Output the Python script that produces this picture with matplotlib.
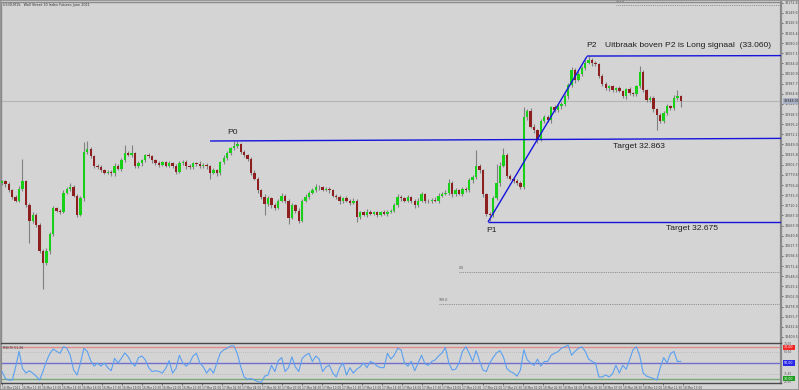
from __future__ import annotations

import matplotlib

matplotlib.use("Agg")

import matplotlib.pyplot as plt
import numpy as np
import pandas as pd


TITLE = "US30,M15:  Wall Street 30 Index Futures June 2021"
START_TIME = "2021-03-16 10:00"

# 15 minute candles, prices in index points (open = previous close)
FIRST_OPEN = 32760
CLOSES = [
    32765, 32758, 32744, 32730, 32721, 32748, 32765, 32710, 32675, 32689,
    32666, 32606, 32579, 32606, 32645, 32703, 32698, 32696, 32739, 32748,
    32753, 32732, 32689, 32726, 32831, 32838, 32822, 32801, 32797, 32790,
    32785, 32787, 32783, 32801, 32794, 32813, 32829, 32826, 32829, 32799,
    32806, 32813, 32824, 32822, 32813, 32806, 32803, 32808, 32801, 32806,
    32801, 32787, 32806, 32810, 32799, 32797, 32806, 32805, 32799, 32803,
    32799, 32785, 32790, 32783, 32808, 32819, 32829, 32840, 32845, 32849,
    32831, 32824, 32817, 32785, 32771, 32744, 32730, 32712, 32726, 32710,
    32705, 32721, 32732, 32721, 32682, 32710, 32698, 32675, 32721, 32730,
    32739, 32744, 32753, 32751, 32746, 32748, 32744, 32732, 32728, 32719,
    32726, 32721, 32716, 32721, 32684, 32694, 32689, 32696, 32691, 32694,
    32689, 32694, 32691, 32696, 32698, 32710, 32730, 32726, 32721, 32728,
    32721, 32710, 32721, 32735, 32721, 32719, 32723, 32721, 32732, 32737,
    32739, 32762, 32735, 32744, 32737, 32748, 32744, 32767, 32774, 32799,
    32790, 32735, 32691, 32687, 32726, 32760, 32801, 32824, 32778, 32771,
    32765, 32762, 32751, 32911, 32925, 32890, 32881, 32861, 32902, 32911,
    32904, 32934, 32927, 32936, 32941, 32959, 32984, 33019, 32996, 33010,
    33023, 33035, 33042, 33035, 33032, 33005, 32987, 32977, 32982, 32973,
    32977, 32971, 32959, 32975, 32966, 32964, 32982, 33014, 32973, 32950,
    32955, 32929, 32916, 32902, 32920, 32936, 32932, 32955, 32959, 32948,
]
WICK_UP = [
    4, 3, 5, 3, 4, 6, 52, 4, 5, 6,
    4, 3, 5, 6, 4, 5, 4, 3, 6, 5,
    8, 4, 3, 5, 23, 20, 5, 4, 3, 5,
    3, 4, 3, 6, 4, 5, 18, 5, 18, 4,
    5, 3, 4, 6, 3, 4, 5, 3, 4, 5,
    3, 4, 5, 4, 3, 5, 4, 3, 6, 4,
    3, 4, 5, 3, 4, 6, 5, 4, 13, 9,
    4, 5, 3, 4, 5, 3, 4, 5, 6, 4,
    5, 4, 6, 3, 4, 6, 3, 5, 4, 6,
    4, 5, 6, 3, 4, 3, 5, 4, 3, 5,
    4, 5, 3, 6, 4, 3, 4, 5, 3, 4,
    3, 4, 5, 3, 4, 5, 6, 4, 3, 5,
    4, 3, 6, 5, 4, 3, 4, 5, 6, 4,
    5, 9, 4, 6, 3, 5, 4, 6, 5, 37,
    6, 4, 3, 4, 6, 45, 8, 18, 5, 4,
    4, 5, 3, 23, 6, 7, 5, 4, 6, 5,
    6, 4, 5, 6, 4, 6, 5, 8, 5, 6,
    5, 6, 8, 5, 4, 3, 4, 5, 4, 3,
    4, 5, 3, 4, 5, 3, 4, 14, 4, 3,
    5, 4, 3, 4, 5, 6, 4, 6, 14, 4,
]
WICK_DN = [
    4, 5, 3, 6, 4, 3, 5, 4, 50, 6,
    5, 4, 60, 5, 6, 4, 3, 5, 4, 3,
    5, 4, 6, 4, 5, 4, 3, 5, 4, 3,
    4, 3, 5, 6, 4, 5, 4, 3, 5, 4,
    4, 5, 3, 4, 6, 3, 5, 4, 3, 4,
    5, 6, 3, 4, 5, 3, 4, 6, 3, 4,
    5, 14, 4, 6, 3, 4, 5, 3, 4, 5,
    3, 4, 5, 6, 4, 5, 6, 25, 4, 5,
    6, 4, 3, 5, 14, 4, 6, 5, 3, 4,
    5, 3, 4, 6, 3, 4, 5, 3, 4, 6,
    4, 3, 5, 4, 13, 4, 3, 5, 4, 3,
    5, 4, 3, 6, 4, 3, 4, 5, 3, 4,
    6, 5, 3, 4, 5, 4, 3, 4, 5, 3,
    4, 5, 6, 3, 4, 5, 3, 4, 5, 4,
    5, 6, 5, 12, 4, 3, 5, 4, 6, 4,
    3, 5, 4, 3, 5, 4, 6, 9, 4, 5,
    4, 5, 3, 4, 6, 3, 5, 4, 6, 3,
    4, 5, 3, 6, 4, 5, 4, 3, 5, 4,
    5, 3, 4, 6, 3, 5, 4, 3, 5, 4,
    3, 6, 35, 4, 5, 3, 4, 5, 4, 14,
]
RSI = [
    39, 30, 28, 28, 45, 65, 43, 37, 40, 37,
    33, 28, 39, 52, 62, 68, 65, 62.5, 71, 69,
    60, 41, 34.5, 50, 69, 65, 53, 46, 50, 46,
    50, 44, 40, 56, 50, 56, 63, 58, 50, 46,
    57, 59, 54, 44, 39, 40, 39, 37, 43, 53,
    37, 43, 60, 50, 46, 50, 59, 62.5, 50, 45,
    37, 43, 37, 50, 63, 67, 69, 72, 72, 62,
    45, 32, 29, 30, 28, 26, 25, 33, 34.5, 47,
    39, 53, 57, 39, 44, 58, 45, 39, 56, 60,
    62.5, 52, 59, 55, 39, 45, 47, 37, 32, 44,
    50, 34.5, 44, 37, 42, 45, 50, 44, 52, 50,
    46, 44, 44, 62.5, 55, 60, 69, 67, 50, 46,
    52, 40, 50, 60, 49, 47, 52, 54, 59, 63,
    70, 50, 41, 42, 50, 65, 71, 62.5, 52, 66,
    53, 41, 39, 50, 57, 63, 66, 58, 43, 39,
    37, 33, 41, 67, 54, 50, 47, 55, 46, 52,
    52, 60, 62.5, 64.6, 69, 71, 73, 60, 65, 69,
    71, 65, 55, 52, 50, 32, 32, 34.5, 32, 36,
    47, 37, 47, 42, 54, 67, 71, 59, 37, 33,
    31.5, 30, 28, 44, 57, 50, 62, 65, 52, 52,
]
RSI_LEVELS = [70, 50, 30]

# pattern points (candle index, price)
P0_X, P0_Y = [61, 229], [32857, 32863]
P1_X, P1_Y = [142.5, 229], [32672, 32672]
P2_X, P2_Y = [171.5, 229], [33051, 33052]
TREND_X, TREND_Y = [142.5, 171.5], [32672, 33050]
TARGET_LABELS = ["Target 32.863", "Target 32.675"]
SIGNAL_LABEL = "Uitbraak boven P2 is Long signaal  (33.060)"

# dotted fibo levels: start index, price, label
FIB_X = [180, 134, 128]
FIB_Y = [33168, 32558, 32485]
FIB_TXT = ["161.8", "0.0", "100.0"]

BG = "#d4d4d4"
BULL = "#18d018"
BEAR = "#8e1f1f"
WICK = "#808080"
BLUE = "#1414dc"
TXT = "#1e1e1e"
FONT = ["Liberation Sans", "DejaVu Sans"]


def draw_candles(ax, opens, closes, highs, lows) -> None:
    idx = np.arange(len(closes))
    up = closes >= opens
    ax.vlines(idx, lows, highs, color=WICK, lw=0.8, zorder=2)
    body = np.maximum(np.abs(closes - opens), 1.6)
    ax.bar(idx[up], body[up], bottom=opens[up], width=0.7, color=BULL,
           linewidth=0, zorder=3)
    ax.bar(idx[~up], body[~up], bottom=closes[~up], width=0.7, color=BEAR,
           linewidth=0, zorder=3)


def main() -> None:
    closes = np.array(CLOSES, dtype=float)
    opens = np.concatenate([[FIRST_OPEN], closes[:-1]])
    highs = np.maximum(opens, closes) + np.array(WICK_UP)
    lows = np.minimum(opens, closes) - np.array(WICK_DN)
    n = len(closes)

    W, H = 799, 390
    fig = plt.figure(figsize=(W / 100, H / 100), dpi=100, facecolor=BG)

    def rect(x0, y0, x1, y1):
        return [x0 / W, 1 - y1 / H, (x1 - x0) / W, (y1 - y0) / H]

    xlim = (-0.3, 228.4)
    ax = fig.add_axes(rect(1, 2, 781, 342), facecolor=BG)
    ax.set_xlim(*xlim)
    ax.set_ylim(32398, 33174.4)

    draw_candles(ax, opens, closes, highs, lows)

    # current price line
    last = closes[-1]
    ax.axhline(last, color="#b4b4b4", lw=0.8, zorder=1)

    # pattern lines
    for xs, ys in [(P0_X, P0_Y), (P1_X, P1_Y), (P2_X, P2_Y), (TREND_X, TREND_Y)]:
        ax.plot(xs, ys, color=BLUE, lw=1.0, zorder=4, solid_capstyle="butt")

    for x0, y0, t in zip(FIB_X, FIB_Y, FIB_TXT):
        ax.plot([x0, 229], [y0, y0], color="#7a7a7a", lw=0.6, ls=(0, (1, 1.2)), zorder=1)
        ax.text(x0, y0 + 5, t, fontsize=2.3, color="#555555", ha="left", va="bottom")

    tk = dict(family=FONT, fontsize=6.1, color=TXT)
    ax.text(67.7, 32877, "P0", ha="center", va="center", **tk)
    ax.text(143.5, 32652, "P1", ha="center", va="center", **tk)
    ax.text(172.7, 33074, "P2", ha="center", va="center", **tk)
    ax.text(176.8, 33074, SIGNAL_LABEL, ha="left", va="center", **tk)
    ax.text(179.2, 32845, TARGET_LABELS[0], ha="left", va="center", **tk)
    ax.text(194.7, 32657, TARGET_LABELS[1], ha="left", va="center", **tk)

    ax.text(0.002, 0.997, TITLE, transform=ax.transAxes, fontsize=2.4,
            color="#333333", ha="left", va="top")

    # price axis on the right
    ticks = np.arange(33172.82, 32400, -23.13)
    ax.yaxis.tick_right()
    ax.set_yticks(ticks)
    ax.set_yticklabels([f"{t:.2f}" for t in ticks])
    ax.tick_params(axis="y", length=1.5, width=0.5, pad=1, labelsize=2.3,
                   colors="#444444")
    ax.set_xticks([])
    ax.text(1.003, last, f"{last:.2f}", transform=ax.get_yaxis_transform(),
            fontsize=2.3, color="#222222", ha="left", va="center",
            bbox=dict(boxstyle="square,pad=0.25", fc="#a8b0c4", ec="none"))
    for side in ["left", "top"]:
        ax.spines[side].set_color("#8a8a8a")
        ax.spines[side].set_linewidth(1.0)
    ax.spines["right"].set_color("#8a8a8a")
    ax.spines["right"].set_linewidth(1.6)
    ax.spines["bottom"].set_visible(False)

    # indicator pane
    ind = fig.add_axes(rect(1, 343, 781, 383), facecolor=BG)
    ind.set_xlim(*xlim)
    ind.set_ylim(24.2, 75.8)
    level_cols = ["#e38a8a", "#7070cc", "#78a878"]
    box_cols = ["#f02828", "#2828e6", "#1ea01e"]
    for lv, c in zip(RSI_LEVELS, level_cols):
        ind.axhline(lv, color=c, lw=1.0, zorder=1)
    for lv in [64.6, 35.4]:
        ind.axhline(lv, color="#a8a8a8", lw=0.5, ls=(0, (1, 2)), zorder=1)
    ind.plot(np.arange(n), RSI, color="#5aa0f0", lw=0.8, zorder=3)
    ind.text(0.002, 0.93, "RSI(9) 51.26", transform=ind.transAxes, fontsize=2.3,
             color="#333333", ha="left", va="top")
    trans = ind.get_yaxis_transform()
    for lv, c in zip(RSI_LEVELS, box_cols):
        ind.text(1.004, lv, f"{lv:.2f}", transform=trans, fontsize=2.3,
                 color="white", ha="left", va="center",
                 bbox=dict(boxstyle="square,pad=0.3", fc=c, ec="none"))
    for lv in [74.5, 64.6, 35.4, 25.5]:
        ind.text(1.004, lv, f"{lv:.2f}", transform=trans, fontsize=2.1,
                 color="#555555", ha="left", va="center")
    ind.set_yticks([])
    for side in ["top", "bottom"]:
        ind.spines[side].set_color("#4a4a4a")
        ind.spines[side].set_linewidth(1.0)
    ind.spines["left"].set_color("#8a8a8a")
    ind.spines["right"].set_color("#8a8a8a")
    ind.spines["right"].set_linewidth(1.6)

    # time axis: one label every 1.5 h
    times = pd.date_range(START_TIME, periods=35, freq="90min")
    tpos = np.arange(len(times)) * 5.87
    keep = tpos < n
    labels = [t.strftime("%d %b %H:%M") for t in times[keep]]
    labels[0] = times[0].strftime("%d %b %Y")
    ind.set_xticks(tpos[keep])
    ind.set_xticklabels(labels, ha="left")
    ind.tick_params(axis="x", length=1.5, width=0.5, pad=0.8, labelsize=2.1,
                    colors="#444444")

    # outer frame
    fig.add_artist(plt.Rectangle((0, 0), 1, 1, transform=fig.transFigure,
                                 fill=False, ec="#8c8c8c", lw=1.2))

    fig.savefig("out.png", dpi=100, facecolor=BG)
    plt.close(fig)


if __name__ == "__main__":
    main()
